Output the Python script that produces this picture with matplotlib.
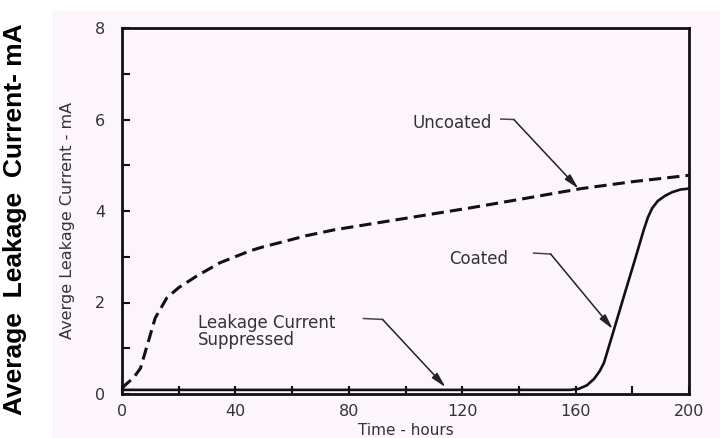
import matplotlib
matplotlib.use("Agg")
import matplotlib.pyplot as plt
from matplotlib.patches import Rectangle

# curves
uncoated_hours = [0, 1, 4, 6.5, 9.3, 11.7, 15.8, 19.9, 26.4, 34.6, 45.2, 50, 57, 65, 75, 88,
                  105, 123, 141.7, 162, 180, 200]
uncoated_ma = [0.12, 0.19, 0.35, 0.56, 1.15, 1.66, 2.10, 2.32, 2.58, 2.87, 3.13, 3.22, 3.33, 3.46, 3.59, 3.72,
               3.89, 4.07, 4.27, 4.49, 4.64, 4.78]

coated_hours = [0, 40, 80, 120, 158, 161, 164, 166.5, 168.5, 170, 173.5, 177, 181, 184, 185.5,
                187, 189, 191.5, 194, 197, 200]
coated_ma = [0.09, 0.09, 0.09, 0.09, 0.09, 0.11, 0.19, 0.33, 0.5, 0.68, 1.40, 2.13, 2.95, 3.58, 3.86,
             4.06, 4.22, 4.33, 4.41, 4.47, 4.49]

x_major = [0, 40, 80, 120, 160, 200]
x_minor = [20, 60, 100, 140, 180]
y_major = [0, 2, 4, 6, 8]
y_minor = [1, 3, 5, 7]

# (text, text anchor, leader start, leader bend, arrow tip)
notes = [
    ("Uncoated", (102.5, 5.93), (133.6, 6.01), (138.2, 6.0), (161, 4.49)),
    ("Coated", (115.5, 2.95), (145.2, 3.08), (151.2, 3.06), (173.1, 1.42)),
    ("Leakage Current\nSuppressed", (26.9, 1.37), (85.2, 1.65), (91.9, 1.63), (114.1, 0.15)),
]

W, H = 720, 438
pink = "#fcf5fc"
ink = "#111111"
grey = "#333333"

fig = plt.figure(figsize=(W / 100, H / 100), dpi=100, facecolor="white")
fig.patches.append(Rectangle((52 / W, 0), 1, 1 - 11 / H, transform=fig.transFigure,
                             facecolor=pink, edgecolor="none", zorder=-5))

ax = fig.add_axes([122 / W, 1 - 394 / H, (689 - 122) / W, (394 - 28) / H])
ax.set_facecolor(pink)

ax.plot(uncoated_hours, uncoated_ma, color=ink, lw=2.2, linestyle=(0, (4, 2)))
ax.plot(coated_hours, coated_ma, color=ink, lw=1.9)

for label, txt, start, bend, tip in notes:
    ax.text(txt[0], txt[1], label, ha="left", va="center", fontsize=12,
            color=grey, linespacing=0.95, family="DejaVu Sans")
    ax.plot([start[0], bend[0]], [start[1], bend[1]], color="#444444", lw=1.1)
    ax.annotate("", xy=tip, xytext=bend,
                arrowprops=dict(arrowstyle="-|>,head_length=0.9,head_width=0.22",
                                color="#222222", lw=1.1, shrinkA=0, shrinkB=0))

ax.set_xlim(0, 200)
ax.set_ylim(0, 8)
ax.set_xticks(x_major)
ax.set_xticks(x_minor, minor=True)
ax.set_yticks(y_major)
ax.set_yticks(y_minor, minor=True)
ax.tick_params(which="both", direction="in", length=6, width=1.5, color=ink,
               labelsize=11.5, labelcolor=grey)
ax.tick_params(axis="x", pad=7)
ax.tick_params(axis="y", pad=12)
for s in ax.spines.values():
    s.set_linewidth(2)
    s.set_color(ink)

ax.set_xlabel("Time - hours", fontsize=11, color=grey, labelpad=3)
ax.set_ylabel("Averge Leakage Current - mA", fontsize=11.5, color=grey)
ax.yaxis.set_label_coords(-0.083, 0.475)

fig.text(15 / W, 0.5, "Average  Leakage  Current- mA", rotation=90, ha="center", va="center",
         fontsize=19, fontweight="bold", family="Liberation Sans", color="black")

fig.savefig("out.png", dpi=100, facecolor="white")
